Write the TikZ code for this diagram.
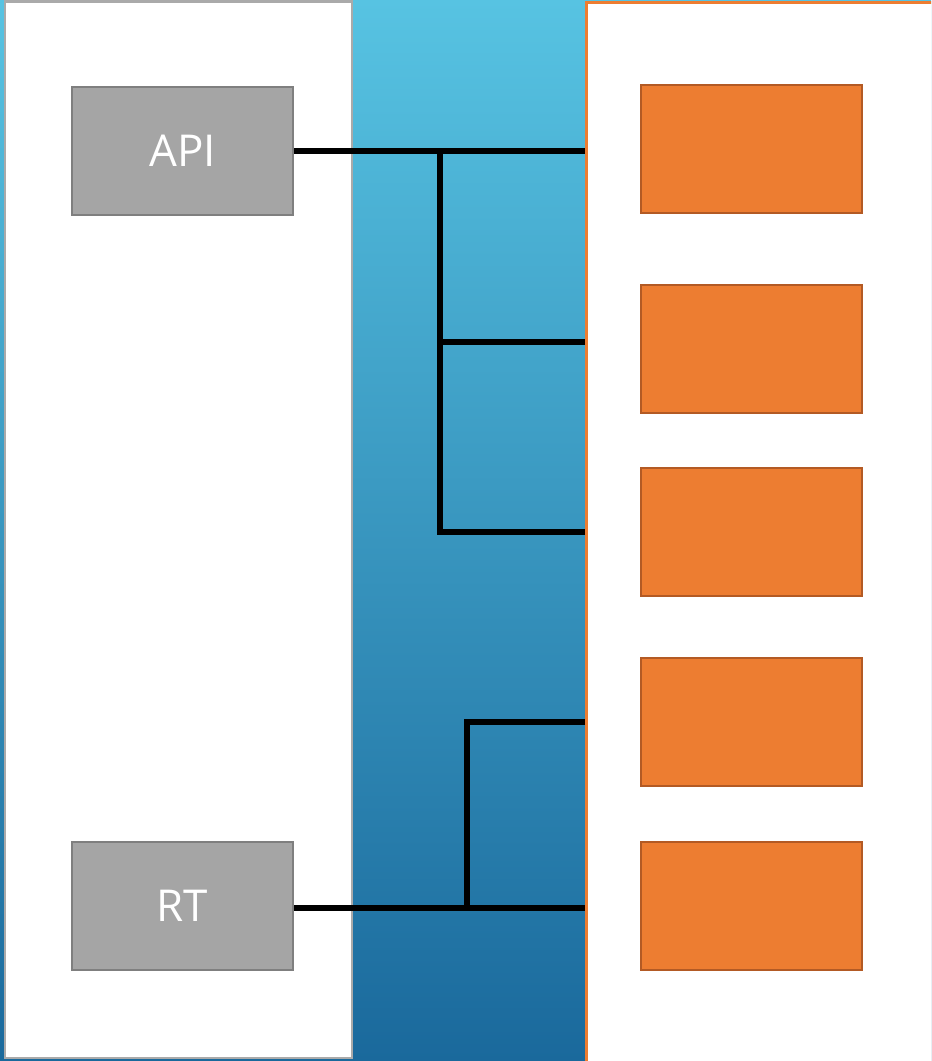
\documentclass[tikz,border=0pt]{standalone}
\usepackage{fontspec}
\setmainfont{Open Sans}
\usepackage{tikz}
\usetikzlibrary{positioning}
\definecolor{skytop}{HTML}{57C3E2}
\definecolor{skybot}{HTML}{1A699C}
\definecolor{boxgray}{HTML}{A5A5A5}
\definecolor{edgegray}{HTML}{7F7F7F}
\definecolor{panelgray}{HTML}{AAAAAA}
\definecolor{accent}{HTML}{ED7D31}
\definecolor{accentdark}{HTML}{B35A24}

\begin{document}
\begin{tikzpicture}[x=0.02cm,y=-0.02cm,
  panel/.style={draw=#1,fill=white,line width=1.6pt,inner sep=0pt},
  graybox/.style={draw=edgegray,fill=boxgray,line width=1.3pt,minimum width=4.42cm,minimum height=2.56cm,
    text=white,font=\fontsize{25}{30}\selectfont},
  orangebox/.style={draw=accentdark,fill=accent,line width=1.2pt,minimum width=4.42cm,minimum height=2.56cm},
  wire/.style={line width=3.6pt}]
\useasboundingbox (0,0) rectangle (931,1061);
\clip (0,0) rectangle (931,1061);
\shade[top color=skytop,bottom color=skybot] (0,0) rectangle (931,1061);
% panels
\node[panel=panelgray,minimum width=6.94cm,minimum height=21.14cm] (lpanel) at (178.5,529.5) {};
\node[panel=accent,minimum width=7.2cm,minimum height=21.6cm,anchor=north west] (rpanel) at (585,1.5) {};
% left side
\node[graybox] (api) at (182.5,151) {API};
\node[graybox] (rt) at (182.5,906) {RT};
% right side
\node[orangebox] (o1) at (751.5,149) {};
\node[orangebox] (o2) at (751.5,349) {};
\node[orangebox] (o3) at (751.5,532) {};
\node[orangebox] (o4) at (751.5,722) {};
\node[orangebox] (o5) at (751.5,906) {};
% junctions
\coordinate (ja) at (440,151);
\coordinate (jb) at (467,908);
\coordinate (e1) at (585,151);
\coordinate (e2) at (585,342);
\coordinate (e3) at (585,532);
\coordinate (e4) at (585,722);
\coordinate (e5) at (585,908);
\draw[wire] (api.east) -- (e1);
\draw[wire] (ja) |- (e3);
\draw[wire] (ja |- e2) -- (e2);
\draw[wire] (rt.east |- e5) -- (e5);
\draw[wire] (jb) |- (e4);
\end{tikzpicture}
\end{document}
